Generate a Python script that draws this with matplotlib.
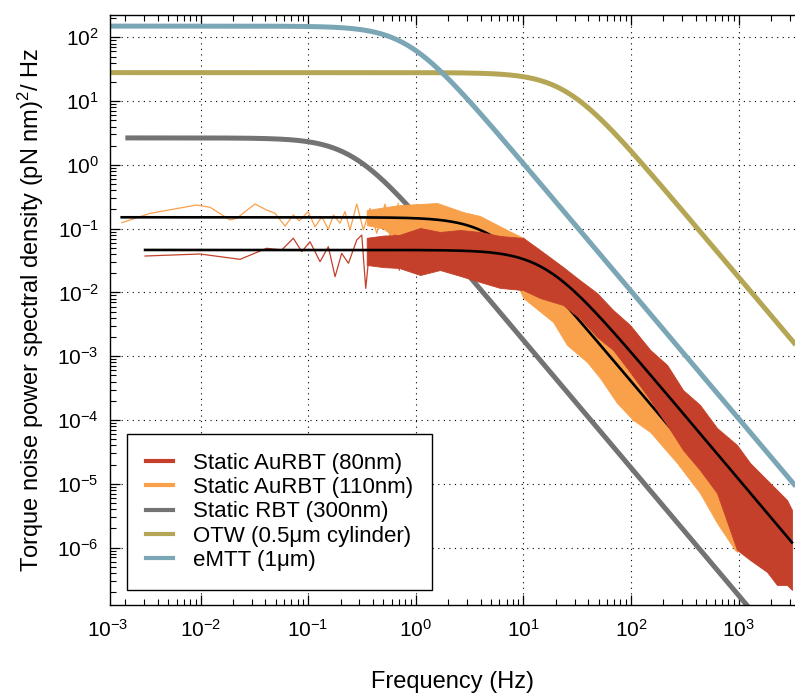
import numpy as np
import matplotlib
matplotlib.use('Agg')
import matplotlib.pyplot as plt
from matplotlib.lines import Line2D
from matplotlib.ticker import FixedLocator, LogLocator, NullFormatter

plt.rcParams['font.family'] = ['Liberation Sans', 'DejaVu Sans']
plt.rcParams['mathtext.fontset'] = 'custom'
plt.rcParams['mathtext.rm'] = 'Liberation Sans'
plt.rcParams['mathtext.it'] = 'Liberation Sans:italic'
plt.rcParams['mathtext.bf'] = 'Liberation Sans:bold'

# Leyenda y colores
labels = ['Static AuRBT (80nm)', 'Static AuRBT (110nm)', 'Static RBT (300nm)',
          'OTW (0.5\u03bcm cylinder)', 'eMTT (1\u03bcm)']
colors = ['#C4402A', '#F9A04B', '#737373', '#B4A655', '#7BA6B6']

# Curvas lorentzianas: meseta (pN nm)^2/Hz, frecuencia de corte (Hz), rango (Hz)
rbt_plateau, rbt_corner, rbt_range = 2.65, 0.26, (2.0e-3, 1.5e3)
otw_plateau, otw_corner, otw_range = 28.0, 25.0, (1.44e-3, 3.4e3)
emtt_plateau, emtt_corner, emtt_range = 150.0, 0.84, (1.44e-3, 3.4e3)

# Ajustes (lineas negras)
fit110_plateau, fit110_corner, fit110_range = 0.151, 5.2, (1.85e-3, 9.7e2)
fit80_plateau, fit80_corner, fit80_range = 0.0464, 16.0, (3.05e-3, 3.14e3)

# Espectro medido 110nm, parte de baja frecuencia
psd110_f = [1.85e-3, 3.40e-3, 9.2e-3, 0.0123, 0.0188, 0.0217, 0.0321, 0.0412,
            0.0492, 0.0610, 0.0728, 0.0828, 0.100, 0.116, 0.134, 0.154, 0.172,
            0.198, 0.220, 0.245, 0.283, 0.326, 0.376, 0.434, 0.519, 0.577, 0.689]
psd110_v = [0.124, 0.174, 0.235, 0.216, 0.137, 0.146, 0.244, 0.196, 0.174,
            0.110, 0.164, 0.133, 0.185, 0.107, 0.154, 0.098, 0.164, 0.122,
            0.185, 0.0955, 0.244, 0.0955, 0.209, 0.0848, 0.244, 0.075, 0.250]

# Espectro medido 110nm, banda de ruido (envolventes)
band110_f = [0.35, 0.50, 0.70, 1.10, 1.58, 2.75, 3.96, 7.06, 10.0, 18.9, 25.5,
             39.1, 51.6, 74.3, 105, 151, 268, 438, 631, 927, 968]
band110_hi = [0.196, 0.215, 0.235, 0.244, 0.253, 0.183, 0.158, 0.0955, 0.0715,
              0.0301, 0.0188, 9.14e-3, 6.37e-3, 3.10e-3, 1.68e-3, 8.75e-4,
              2.75e-4, 1.20e-4, 5.84e-5, 2.84e-5, 2.55e-5]
band110_lo = [0.114, 0.100, 0.0665, 0.0665, 0.0619, 0.0556, 0.0464, 0.0301,
              8.20e-3, 3.45e-3, 1.50e-3, 8.14e-4, 4.57e-4, 1.85e-4, 1.00e-4,
              6.50e-5, 2.13e-5, 7.19e-6, 2.44e-6, 9.20e-7, 8.57e-7]

# Espectro medido 80nm, parte de baja frecuencia
psd80_f = [3.05e-3, 9.9e-3, 0.0233, 0.0412, 0.0569, 0.0728, 0.0873, 0.104,
           0.129, 0.154, 0.178, 0.205, 0.237, 0.283, 0.315, 0.343, 0.376,
           0.434, 0.500, 0.556, 0.642, 0.704]
psd80_v = [0.0373, 0.0401, 0.0331, 0.0493, 0.0464, 0.0708, 0.0436, 0.0625,
           0.0304, 0.0522, 0.0177, 0.0411, 0.0287, 0.0665, 0.0796, 0.0116,
           0.0555, 0.0364, 0.0708, 0.0287, 0.0796, 0.0225]

# Espectro medido 80nm, banda de ruido (envolventes)
band80_f = [0.35, 0.50, 0.70, 1.10, 1.68, 2.58, 3.96, 6.07, 10.0, 14.3, 23.4,
            33.4, 48.4, 68.2, 98, 151, 217, 305, 438, 631, 968, 1280, 1840,
            2280, 2820, 3140]
band80_hi = [0.072, 0.078, 0.0796, 0.1026, 0.0888, 0.0955, 0.0888, 0.0769,
             0.0715, 0.0464, 0.0251, 0.0157, 9.82e-3, 5.32e-3, 3.10e-3,
             1.26e-3, 7.31e-4, 2.96e-4, 1.73e-4, 7.52e-5, 4.07e-5, 2.13e-5,
             1.15e-5, 8.02e-6, 5.60e-6, 3.90e-6]
band80_lo = [0.027, 0.025, 0.0242, 0.0188, 0.0225, 0.0182, 0.0146, 0.0118,
             0.0109, 8.20e-3, 6.37e-3, 3.98e-3, 2.01e-3, 1.26e-3, 5.68e-4,
             2.07e-4, 8.38e-5, 3.40e-5, 1.65e-5, 7.19e-6, 9.20e-7, 6.41e-7,
             4.16e-7, 2.60e-7, 2.60e-7, 2.17e-7]


def lorentz(plateau, corner, frange):
    f = np.logspace(np.log10(frange[0]), np.log10(frange[1]), 500)
    return f, plateau / (1 + (f / corner) ** 2)


fig = plt.figure(figsize=(7.95, 7.0), dpi=100)
ax = fig.add_axes([110 / 795, 95 / 700, 685 / 795, 590 / 700])
ax.set_xscale('log')
ax.set_yscale('log')

# Curvas teoricas
for (p, c, r), col in [((otw_plateau, otw_corner, otw_range), colors[3]),
                       ((emtt_plateau, emtt_corner, emtt_range), colors[4]),
                       ((rbt_plateau, rbt_corner, rbt_range), colors[2])]:
    f, s = lorentz(p, c, r)
    ax.plot(f, s, color=col, lw=3.6, solid_capstyle='butt', zorder=2)

# Datos 110nm y su ajuste
ax.plot(psd110_f, psd110_v, color=colors[1], lw=0.9, zorder=3)
ax.fill_between(band110_f, band110_lo, band110_hi, color=colors[1], lw=0.6,
                edgecolor=colors[1], zorder=3)
f, s = lorentz(fit110_plateau, fit110_corner, fit110_range)
ax.plot(f, s, color='k', lw=1.9, zorder=4)

# Datos 80nm y su ajuste
ax.plot(psd80_f, psd80_v, color=colors[0], lw=0.9, zorder=5)
ax.fill_between(band80_f, band80_lo, band80_hi, color=colors[0], lw=0.6,
                edgecolor=colors[0], zorder=5)
f, s = lorentz(fit80_plateau, fit80_corner, fit80_range)
ax.plot(f, s, color='k', lw=1.9, zorder=6)

ax.set_xlim(1.44e-3, 3.35e3)
ax.set_ylim(1.26e-7, 224)

ax.xaxis.set_major_locator(FixedLocator([1e-2, 1e-1, 1e0, 1e1, 1e2, 1e3]))
ax.yaxis.set_major_locator(FixedLocator([1e-6, 1e-5, 1e-4, 1e-3, 1e-2, 1e-1,
                                         1e0, 1e1, 1e2]))
ax.xaxis.set_minor_locator(LogLocator(subs=np.arange(2, 10), numticks=20))
ax.yaxis.set_minor_locator(LogLocator(subs=np.arange(2, 10), numticks=20))
ax.xaxis.set_minor_formatter(NullFormatter())
ax.yaxis.set_minor_formatter(NullFormatter())

ax.grid(True, which='major', color='k', lw=0.8, linestyle=(0, (1, 4)))
ax.tick_params(which='both', direction='in', top=True, right=False,
               labelsize=15)
ax.tick_params(axis='x', pad=10)
ax.tick_params(axis='y', pad=8)
ax.tick_params(which='major', length=7, width=0.9)
ax.tick_params(which='minor', length=4, width=0.8)
ax.spines['right'].set_visible(False)
for sp in ['left', 'top', 'bottom']:
    ax.spines[sp].set_linewidth(1.0)

# Etiqueta 10^-3 en la esquina
ax.annotate(r'$\mathdefault{10^{-3}}$', xy=(0, 0), xycoords='axes fraction',
            xytext=(-2, -10), textcoords='offset points', ha='center', va='top',
            fontsize=15)

ax.set_xlabel('Frequency (Hz)', fontsize=17, labelpad=22)
ax.set_ylabel('Torque noise power spectral density (pN nm)$^2$/ Hz',
              fontsize=17, labelpad=8)

handles = [Line2D([0], [0], color=c, lw=3) for c in colors]
leg = ax.legend(handles, labels, loc='lower left', bbox_to_anchor=(0.0248, 0.0254),
                borderaxespad=0, fontsize=16, fancybox=False, framealpha=1,
                edgecolor='k', handlelength=1.2, handletextpad=0.9,
                labelspacing=0.15, borderpad=0.85)
leg.get_frame().set_linewidth(1.0)
leg.set_zorder(10)

fig.savefig('out.png', dpi=100)
